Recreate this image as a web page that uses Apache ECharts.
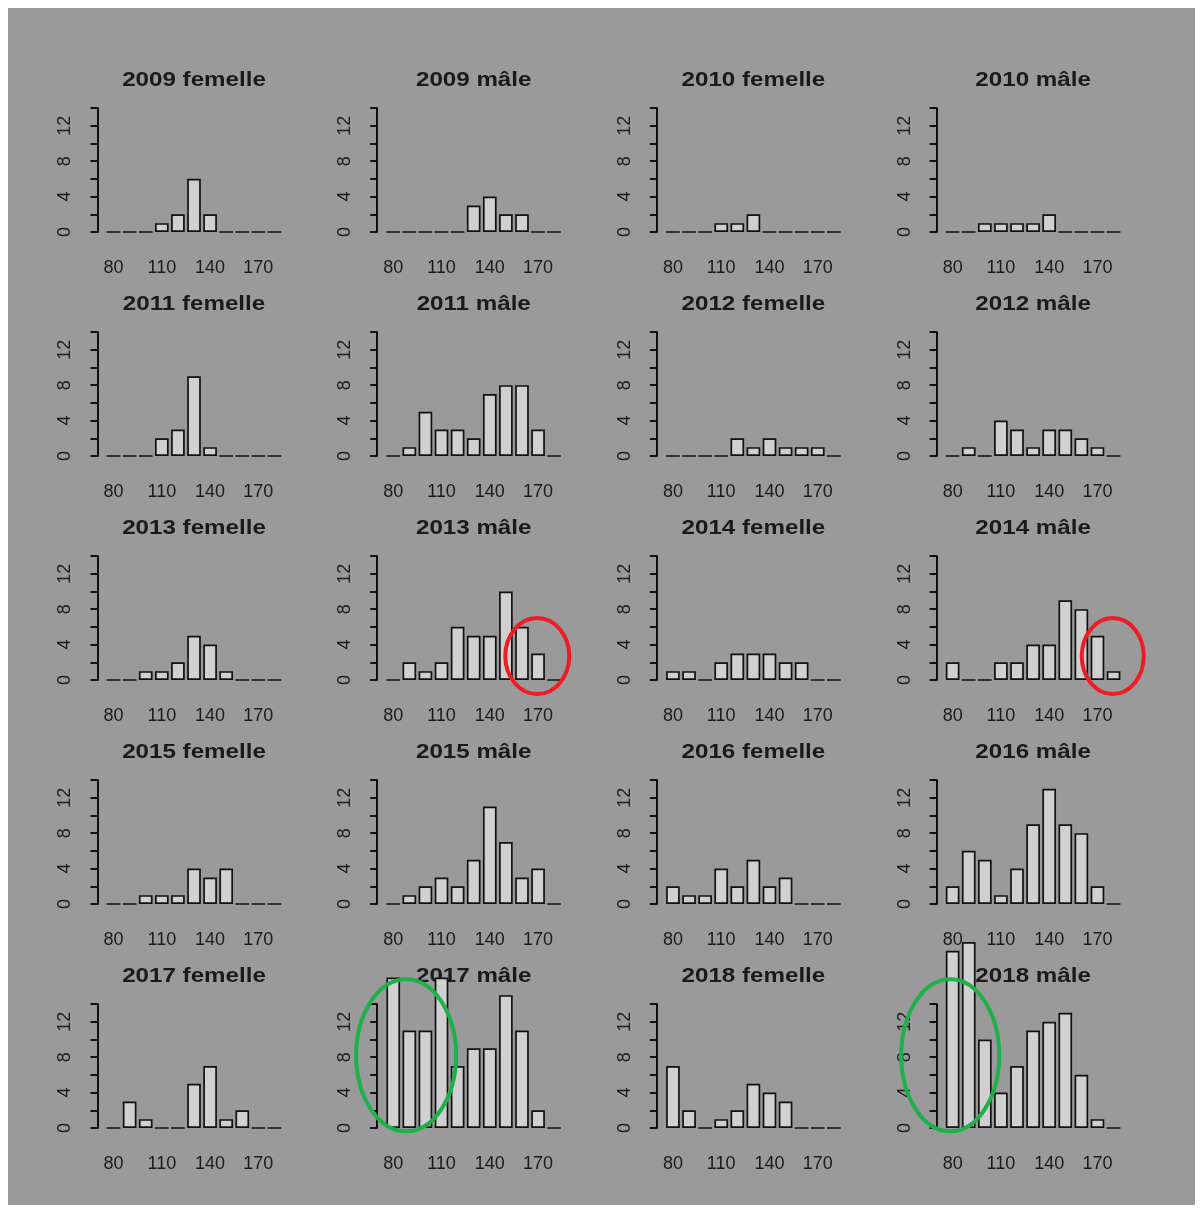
<!DOCTYPE html>
<html><head><meta charset="utf-8">
<script src="https://cdn.jsdelivr.net/npm/echarts@6/dist/echarts.min.js"></script>
<style>
html,body{margin:0;padding:0;background:#ffffff;}
#bg{position:absolute;left:8px;top:8px;width:1187px;height:1197px;background:#9a9a9a;}
#chart{position:absolute;left:0;top:0;width:1202px;height:1213px;}
</style></head><body>
<div id="bg"></div><div id="chart"></div>
<script>
// ---- data ----
const bins = ['80','90','100','110','120','130','140','150','160','170','180'];
const yTicks = [0, 4, 8, 12];
const f2009 = [0,0,0,1,2,6,2,0,0,0,0];
const m2009 = [0,0,0,0,0,3,4,2,2,0,0];
const f2010 = [0,0,0,1,1,2,0,0,0,0,0];
const m2010 = [0,0,1,1,1,1,2,0,0,0,0];
const f2011 = [0,0,0,2,3,9,1,0,0,0,0];
const m2011 = [0,1,5,3,3,2,7,8,8,3,0];
const f2012 = [0,0,0,0,2,1,2,1,1,1,0];
const m2012 = [0,1,0,4,3,1,3,3,2,1,0];
const f2013 = [0,0,1,1,2,5,4,1,0,0,0];
const m2013 = [0,2,1,2,6,5,5,10,6,3,0];
const f2014 = [1,1,0,2,3,3,3,2,2,0,0];
const m2014 = [2,0,0,2,2,4,4,9,8,5,1];
const f2015 = [0,0,1,1,1,4,3,4,0,0,0];
const m2015 = [0,1,2,3,2,5,11,7,3,4,0];
const f2016 = [2,1,1,4,2,5,2,3,0,0,0];
const m2016 = [2,6,5,1,4,9,13,9,8,2,0];
const f2017 = [0,3,1,0,0,5,7,1,2,0,0];
const m2017 = [17,11,11,17,7,9,9,15,11,2,0];
const f2018 = [7,2,0,1,2,5,4,3,0,0,0];
const m2018 = [20,21,10,4,7,11,12,13,6,1,0];

const titles = ['2009 femelle','2009 mâle','2010 femelle','2010 mâle',
  '2011 femelle','2011 mâle','2012 femelle','2012 mâle',
  '2013 femelle','2013 mâle','2014 femelle','2014 mâle',
  '2015 femelle','2015 mâle','2016 femelle','2016 mâle',
  '2017 femelle','2017 mâle','2018 femelle','2018 mâle'];
const series = [f2009,m2009,f2010,m2010,f2011,m2011,f2012,m2012,f2013,m2013,
  f2014,m2014,f2015,m2015,f2016,m2016,f2017,m2017,f2018,m2018];

// annotations: [panel index, bin position, value, rx, ry, color]
const marks = [
  [9, 8.95, 2.7, 32, 38, '#ee1c24'],
  [11, 9.95, 2.7, 31, 38, '#ee1c24'],
  [17, 0.8, 8.2, 50, 76, '#1fb04c'],
  [19, -0.15, 8.2, 49, 76, '#1fb04c']
];

// ---- layout ----
const FONT = '"Liberation Sans", Arial, Helvetica, sans-serif';
const INK = '#111111';
const colX0 = 105.5, colPitch = 279.7, gridW = 177;
const rowZero = 232, rowPitch = 224, gridH = 124;

const grid = [], xAxis = [], yAxis = [], ser = [], gtext = [];
series.forEach((d, i) => {
  const r = Math.floor(i / 4), c = i % 4;
  const left = colX0 + c * colPitch;
  const top = rowZero + r * rowPitch - gridH;
  grid.push({left: left, top: top, width: gridW, height: gridH, containLabel: false});
  xAxis.push({type: 'category', gridIndex: i, data: bins, boundaryGap: true,
    axisLine: {show: false}, axisTick: {show: false}, splitLine: {show: false},
    axisLabel: {interval: 2, margin: 27, fontSize: 18, color: '#1a1a1a', fontFamily: FONT}});
  yAxis.push({type: 'value', gridIndex: i, min: 0, max: 14, interval: 2, offset: 8,
    axisLine: {show: true, lineStyle: {color: INK, width: 2}},
    axisTick: {show: true, length: 7, lineStyle: {color: INK, width: 2}},
    splitLine: {show: false},
    axisLabel: {rotate: 90, margin: 23, fontSize: 18, color: '#1a1a1a', fontFamily: FONT,
      formatter: v => yTicks.indexOf(v) >= 0 ? String(v) : ''}});
  ser.push({type: 'bar', xAxisIndex: i, yAxisIndex: i, data: d, barCategoryGap: '15%',
    clip: false, silent: true,
    itemStyle: {color: '#d0d0d0', borderColor: INK, borderWidth: 1.7}});
  gtext.push({type: 'text', x: left + gridW / 2, y: top - 28, scaleX: 1.15, silent: true,
    style: {text: titles[i], align: 'center', verticalAlign: 'middle',
      font: 'bold 21px ' + FONT, fill: '#1a1a1a'}});
});

const chart = echarts.init(document.getElementById('chart'), null, {renderer: 'canvas'});
chart.setOption({animation: false, backgroundColor: 'transparent',
  grid: grid, xAxis: xAxis, yAxis: yAxis, series: ser});

const ells = marks.map(m => {
  const q = {xAxisIndex: m[0], yAxisIndex: m[0]};
  const base = Math.floor(m[1]);
  const i0 = Math.max(0, Math.min(bins.length - 2, base));
  const p0 = chart.convertToPixel(q, [i0, m[2]]);
  const p1 = chart.convertToPixel(q, [i0 + 1, m[2]]);
  const cx = p0[0] + (p1[0] - p0[0]) * (m[1] - i0);
  return {type: 'ellipse', silent: true, z: 100,
    shape: {cx: cx, cy: p0[1], rx: m[3], ry: m[4]},
    style: {fill: 'none', stroke: m[5], lineWidth: 4}};
});
chart.setOption({graphic: {elements: gtext.concat(ells)}});
</script></body></html>
